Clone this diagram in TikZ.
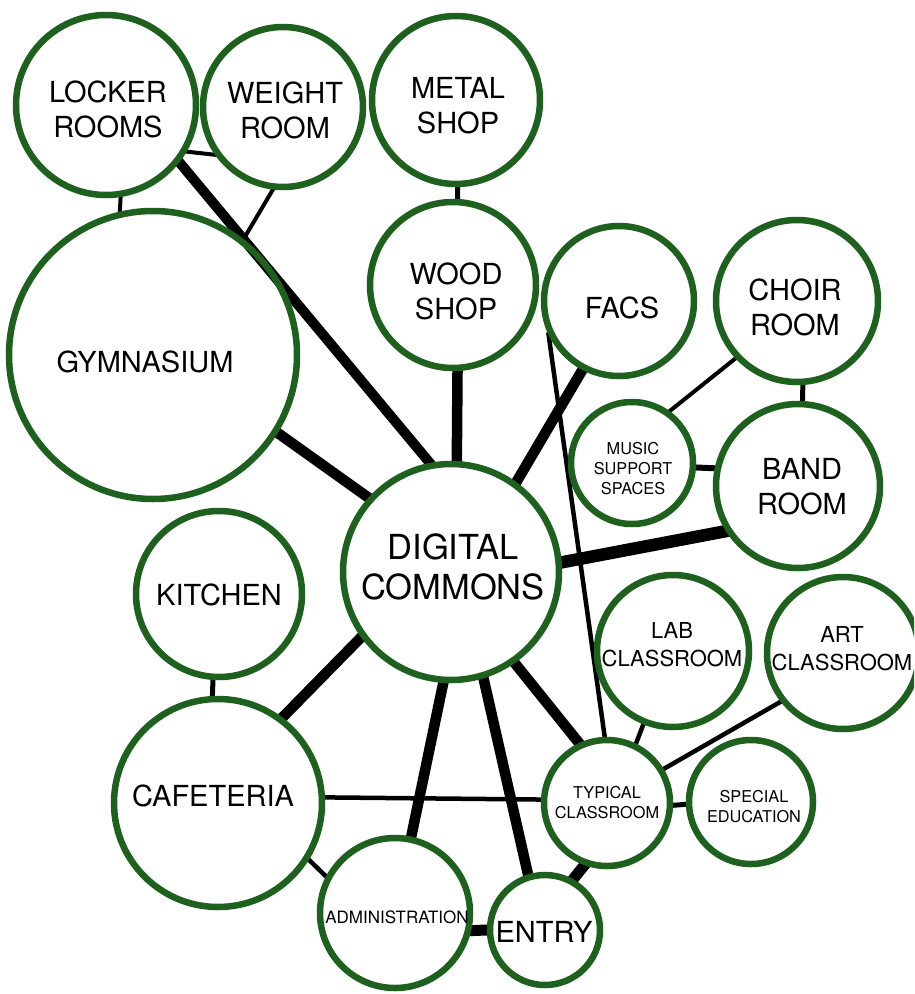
\documentclass[tikz,border=0pt]{standalone}
\usepackage{fontspec}
\setmainfont{TeX Gyre Heros}
\usetikzlibrary{backgrounds}
\definecolor{ring}{RGB}{30,96,30}
\begin{document}
\begin{tikzpicture}[x=1pt,y=-1pt,
  room/.style={circle,draw=ring,line width=6.5pt,inner sep=0pt,minimum size=2*#1pt},
  lbl/.style={align=center,inner sep=0pt,text=black},
  big/.style={font=\fontsize{29}{35}\selectfont},
  huge/.style={font=\fontsize{34.5}{40}\selectfont},
  mid/.style={font=\fontsize{22}{28}\selectfont},
  tiny/.style={font=\fontsize{16.3}{20}\selectfont},
  lk/.style={line width=#1pt,draw=black,shorten <=-3pt,shorten >=-3pt}]
\useasboundingbox (0,0) rectangle (914,994);
\clip (0,0) rectangle (914,994);
% rooms
\node[room=90] (locker) at (106,105) {};
\node[room=80] (weight) at (283,107) {};
\node[room=84] (metal) at (456,100) {};
\node[room=144] (gym) at (153,355) {};
\node[room=83] (wood) at (453,285) {};
\node[room=75] (facs) at (619,301) {};
\node[room=81] (choir) at (797,301) {};
\node[room=61] (music) at (632,463) {};
\node[room=82] (band) at (798,486) {};
\node[room=108] (dc) at (451,572) {};
\node[room=83] (kitchen) at (219,594) {};
\node[room=76] (lab) at (673,651) {};
\node[room=76] (art) at (843,653) {};
\node[room=104] (cafe) at (218,803) {};
\node[room=63] (typical) at (607,803) {};
\node[room=62] (special) at (751,802) {};
\node[room=75] (admin) at (395,913) {};
\node[room=55] (entry) at (545,930) {};
% labels
\node[lbl,big] (locker-t) at (108,109) {LOCKER\\ROOMS};
\node[lbl,big] (weight-t) at (285,110) {WEIGHT\\ROOM};
\node[lbl,big] (metal-t) at (458,106) {METAL\\SHOP};
\node[lbl,big] (gym-t) at (145,362) {GYMNASIUM};
\node[lbl,big] (wood-t) at (456,291) {WOOD\\SHOP};
\node[lbl,big] (facs-t) at (622,308) {FACS};
\node[lbl,big] (choir-t) at (795,307) {CHOIR\\ROOM};
\node[lbl,tiny] (music-t) at (633,469) {MUSIC\\SUPPORT\\SPACES};
\node[lbl,big] (band-t) at (802,487) {BAND\\ROOM};
\node[lbl,huge] (dc-t) at (453,567) {DIGITAL\\COMMONS};
\node[lbl,big] (kitchen-t) at (219,595) {KITCHEN};
\node[lbl,mid] (lab-t) at (672,645) {LAB\\CLASSROOM};
\node[lbl,mid] (art-t) at (842,649) {ART\\CLASSROOM};
\node[lbl,big] (cafe-t) at (213,796) {CAFETERIA};
\node[lbl,tiny] (typical-t) at (607,803) {TYPICAL\\CLASSROOM};
\node[lbl,tiny] (special-t) at (754,807) {SPECIAL\\EDUCATION};
\node[lbl,font=\fontsize{17}{20}\selectfont] (admin-t) at (397,917) {ADMINISTRATION};
\node[lbl,big] (entry-t) at (544,932) {ENTRY};
% connectors
\begin{scope}[on background layer]
\fill[white] (0,0) rectangle (914,994);
\draw[lk=10] (locker.-38) -- (dc.101);
\draw[lk=10.5] (gym.-32) -- (dc.138);
\draw[lk=10.5] (wood.-87) -- (dc.87);
\draw[lk=10.5] (facs.242) -- (dc.54);
\draw[lk=12.5] (band.212) -- (dc.5);
\draw[lk=10.5] (dc.-55) -- (typical.115);
\draw[lk=10.5] (dc.-73) -- (entry.107);
\draw[lk=10.5] (dc.-94) -- (admin.78);
\draw[lk=10.5] (dc.216) -- (cafe.53);
\draw[lk=4] (locker.-30) -- (weight.215);
\draw[lk=4] (locker.-81) -- (gym.103);
\draw[lk=4] (weight.-97) -- (gym.52);
\draw[lk=5] (metal.-89) -- (wood.87);
\draw[lk=4] (choir.223) -- (music.54);
\draw[lk=5] (choir.-86) -- (band.87);
\draw[lk=6] (music.-4) -- (band.168);
\draw[lk=4.5] (facs.206) -- (typical.92);
\draw[lk=4.5] (lab.-112) -- (typical.64);
\draw[lk=4.5] (art.218) -- (typical.31);
\draw[lk=5] (typical.-2) -- (special.182);
\draw[lk=4.5] (cafe.3) -- (typical.177);
\draw[lk=4.5] (cafe.-32) -- (admin.152);
\draw[lk=11] (admin.-13) -- (entry.180);
\draw[lk=11] (entry.61) -- (typical.250);
\draw[lk=5] (kitchen.-94) -- (cafe.93);
\end{scope}
\end{tikzpicture}
\end{document}
